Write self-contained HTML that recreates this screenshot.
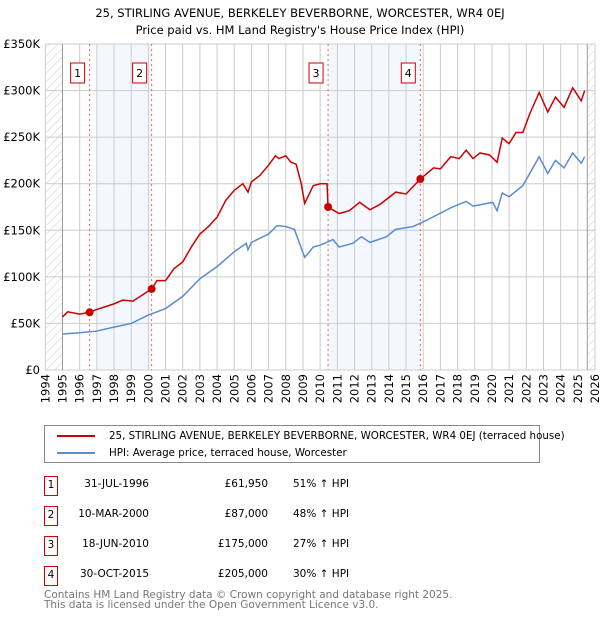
<!DOCTYPE html>
<html><head><meta charset="utf-8">
<style>
body{margin:0;background:#fff;font-family:"DejaVu Sans","Liberation Sans",sans-serif;}
#wrap{position:relative;width:600px;height:620px;overflow:hidden;}
.nw{white-space:nowrap;}
</style></head>
<body><div id="wrap">
<svg id="chart" width="600" height="620" font-family="DejaVu Sans, Liberation Sans, sans-serif">
<defs>
<pattern id="hatch" width="6" height="6" patternUnits="userSpaceOnUse" patternTransform="rotate(45)">
<line x1="0" y1="0" x2="0" y2="6" stroke="#ccc" stroke-width="1"/>
</pattern>
</defs>
<text x="300" y="17" text-anchor="middle" font-size="11.5" fill="#000">25, STIRLING AVENUE, BERKELEY BEVERBORNE, WORCESTER, WR4 0EJ</text>
<text x="300" y="34" text-anchor="middle" font-size="11.5" fill="#000">Price paid vs. HM Land Registry's House Price Index (HPI)</text>
<g id="plot"></g>
</svg>
<script>
const yearTicks=[1994,1995,1996,1997,1998,1999,2000,2001,2002,2003,2004,2005,2006,2007,2008,2009,2010,2011,2012,2013,2014,2015,2016,2017,2018,2019,2020,2021,2022,2023,2024,2025,2026];
const priceTicks=[0,50000,100000,150000,200000,250000,300000,350000];
const priceTickLabels=["£0","£50K","£100K","£150K","£200K","£250K","£300K","£350K"];
const hpiYears=[1995,1996,1997,1998,1999,2000,2001,2002,2003,2004,2005,2005.7,2005.8,2006,2007,2007.5,2008,2008.5,2008.8,2009.1,2009.6,2010,2010.75,2011.1,2011.9,2012.4,2012.9,2013.85,2014.4,2015.4,2016,2016.75,2017.7,2018.5,2018.9,2020.05,2020.3,2020.6,2021,2021.8,2022.75,2023.25,2023.7,2024.2,2024.7,2025.2,2025.4];
const hpiValues=[38600,40000,41800,46000,50000,59000,66000,79000,98000,111000,127000,136000,129000,137000,146000,155000,154000,151000,136000,121000,132000,134000,140000,132000,136000,143000,137000,143000,151000,154000,159000,166000,175000,181000,176000,180000,171000,190000,186000,198000,229000,211000,225000,217000,233000,222000,229000];
const priceYears=[1995,1995.3,1996,1996.58,1997,1998,1998.5,1999.1,2000.19,2000.5,2001,2001.5,2002,2002.5,2003,2003.5,2004,2004.5,2005,2005.5,2005.8,2006,2006.5,2007,2007.4,2007.6,2008,2008.3,2008.6,2008.9,2009.1,2009.6,2010,2010.4,2010.46,2011.1,2011.7,2012.3,2012.9,2013.5,2014.4,2015,2015.83,2016.6,2017,2017.6,2018.1,2018.5,2018.9,2019.3,2019.85,2020.3,2020.6,2021,2021.4,2021.8,2022.2,2022.75,2023.25,2023.7,2024.2,2024.7,2025.2,2025.4];
const priceValues=[57000,62500,60000,61950,65000,71000,75000,74000,87000,96000,96000,109000,116000,132000,146000,154000,164000,182000,193000,200000,191000,202000,209000,220000,230000,227000,230000,223000,221000,200000,179000,198000,200000,200000,175000,168000,171000,180000,172000,178000,191000,189000,205000,217000,216000,229000,227000,236000,227000,233000,231000,223000,249000,243000,255000,255000,275000,298000,277000,293000,282000,303000,289000,300000];
const saleLabels=["1","2","3","4"];
const saleYears=[1996.58,2000.19,2010.46,2015.83];
const salePrices=[61950,87000,175000,205000];
const shadeStart=[1997,2010.46];
const shadeEnd=[2000.19,2015.83];

const X0=45.3,X1=595,Y0=370,Y1=44;
const xs=y=>X0+(y-1994)/(2026-1994)*(X1-X0);
const ys=v=>Y0-v/350000*(Y0-Y1);
const NS="http://www.w3.org/2000/svg";
const plot=document.getElementById('plot');
function mk(tag,attrs,parent){const e=document.createElementNS(NS,tag);for(const k in attrs)e.setAttribute(k,attrs[k]);(parent||plot).appendChild(e);return e;}

let e=mk('rect',{x:X0,y:Y1,width:xs(1995)-X0,height:Y0-Y1,fill:'url(#hatch)'});


e=mk('rect',{x:xs(2025.55),y:Y1,width:X1-xs(2025.55),height:Y0-Y1,fill:'url(#hatch)'});


for(let i=0;i<shadeStart.length;i++){
  e=mk('rect',{x:xs(shadeStart[i]),y:Y1,width:xs(shadeEnd[i])-xs(shadeStart[i]),height:Y0-Y1,fill:'#eef3fd',opacity:0.7});
  
  
}
yearTicks.forEach(y=>{
  e=mk('line',{x1:xs(y),x2:xs(y),y1:Y1,y2:Y0,stroke:'#ccc','stroke-width':1});
  
  
  e=mk('text',{x:0,y:0,transform:`translate(${xs(y)+4},${Y0+4}) rotate(-90)`,'text-anchor':'end','font-size':11.5,fill:'#000'});
  e.textContent=y;
  
  
});
priceTicks.forEach((v,i)=>{
  e=mk('line',{x1:X0,x2:X1,y1:ys(v),y2:ys(v),stroke:'#ccc','stroke-width':1});
  
  
  e=mk('text',{x:40,y:ys(v)+4,'text-anchor':'end','font-size':11.5,fill:'#000'});
  e.textContent=priceTickLabels[i];
  
  
});
e=mk('line',{x1:xs(1995),x2:xs(1995),y1:Y1,y2:Y0,stroke:'#999','stroke-width':1});


e=mk('line',{x1:xs(2025.55),x2:xs(2025.55),y1:Y1,y2:Y0,stroke:'#999','stroke-width':1});


saleYears.forEach(y=>{
  e=mk('line',{x1:xs(y),x2:xs(y),y1:Y1,y2:Y0,stroke:'#f06060','stroke-width':1,'stroke-dasharray':'2,3'});
  
  
});
e=mk('polyline',{points:hpiYears.map((y,i)=>xs(y)+','+ys(hpiValues[i])).join(' '),fill:'none',stroke:'#5b8bd0','stroke-width':1.5});


e=mk('polyline',{points:priceYears.map((y,i)=>xs(y)+','+ys(priceValues[i])).join(' '),fill:'none',stroke:'#cc0000','stroke-width':1.5});


saleYears.forEach((y,i)=>{
  e=mk('circle',{cx:xs(y),cy:ys(salePrices[i]),r:4,fill:'#cc0000'});
  
  
  const g=mk('g',{});
  
  
  mk('rect',{x:xs(y)-19,y:63,width:14,height:20,fill:'#fff',stroke:'#cc0000','stroke-width':1},g);
  const t=mk('text',{x:xs(y)-12,y:77,'text-anchor':'middle','font-size':11,fill:'#000'},g);
  t.textContent=saleLabels[i];
});
</script>

<div style="position:absolute;left:44px;top:425px;width:494px;height:36px;border:1px solid #888;font-size:10.3px;">
  <div class="nw" style="position:absolute;left:12px;top:4px;"><span style="display:inline-block;width:38px;height:2px;background:#cc0000;vertical-align:middle;margin-right:14px;"></span>25, STIRLING AVENUE, BERKELEY BEVERBORNE, WORCESTER, WR4 0EJ (terraced house)</div>
  <div class="nw" style="position:absolute;left:12px;top:21px;"><span style="display:inline-block;width:38px;height:2px;background:#5b8bd0;vertical-align:middle;margin-right:14px;"></span>HPI: Average price, terraced house, Worcester</div>
</div>

<div style="position:absolute;left:0;top:0;font-size:10.5px;">
  <div>
    <div style="position:absolute;left:44px;top:476px;width:12px;height:18px;border:1px solid #cc0000;text-align:center;line-height:17px;">1</div>
    <div class="nw" style="position:absolute;left:50px;top:478px;width:99px;text-align:right;">31-JUL-1996</div>
    <div class="nw" style="position:absolute;left:180px;top:478px;width:88px;text-align:right;">£61,950</div>
    <div class="nw" style="position:absolute;left:293px;top:478px;">51% ↑ HPI</div>
  </div>
  <div>
    <div style="position:absolute;left:44px;top:506px;width:12px;height:18px;border:1px solid #cc0000;text-align:center;line-height:17px;">2</div>
    <div class="nw" style="position:absolute;left:50px;top:508px;width:99px;text-align:right;">10-MAR-2000</div>
    <div class="nw" style="position:absolute;left:180px;top:508px;width:88px;text-align:right;">£87,000</div>
    <div class="nw" style="position:absolute;left:293px;top:508px;">48% ↑ HPI</div>
  </div>
  <div>
    <div style="position:absolute;left:44px;top:536px;width:12px;height:18px;border:1px solid #cc0000;text-align:center;line-height:17px;">3</div>
    <div class="nw" style="position:absolute;left:50px;top:538px;width:99px;text-align:right;">18-JUN-2010</div>
    <div class="nw" style="position:absolute;left:180px;top:538px;width:88px;text-align:right;">£175,000</div>
    <div class="nw" style="position:absolute;left:293px;top:538px;">27% ↑ HPI</div>
  </div>
  <div>
    <div style="position:absolute;left:44px;top:566px;width:12px;height:18px;border:1px solid #cc0000;text-align:center;line-height:17px;">4</div>
    <div class="nw" style="position:absolute;left:50px;top:568px;width:99px;text-align:right;">30-OCT-2015</div>
    <div class="nw" style="position:absolute;left:180px;top:568px;width:88px;text-align:right;">£205,000</div>
    <div class="nw" style="position:absolute;left:293px;top:568px;">30% ↑ HPI</div>
  </div>
</div>

<div class="nw" style="position:absolute;left:44px;top:590px;font-size:10.5px;color:#777;line-height:10px;">Contains HM Land Registry data © Crown copyright and database right 2025.<br>This data is licensed under the Open Government Licence v3.0.</div>
</div>
</body></html>
